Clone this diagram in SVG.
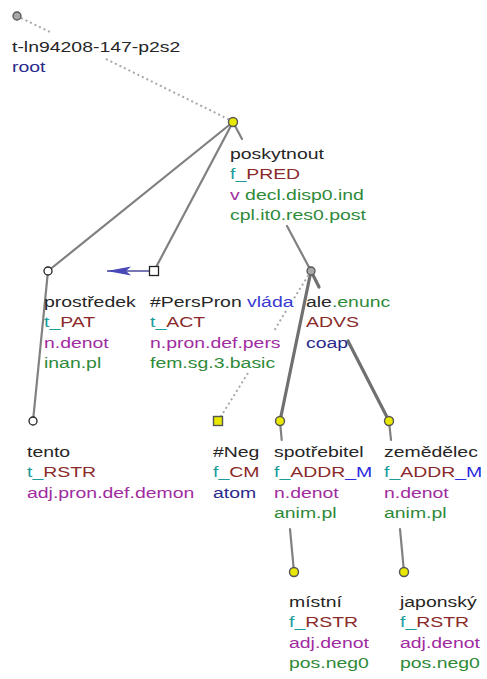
<svg xmlns="http://www.w3.org/2000/svg" width="487" height="679" viewBox="0 0 487 679">
<style>
  .t{font-family:"Liberation Sans",Arial,sans-serif;font-size:14.5px;fill:#262626}
  .cb{fill:#1a9c9c}
  .fn{fill:#8a2a2a}
  .mb{fill:#2b2bdd}
  .sp{fill:#a02ca0}
  .gr{fill:#2f8a3a}
  .nv{fill:#2a2a8a}
  .bl{fill:#3a3ad0}
  .e{stroke:#808080;stroke-width:2.2;fill:none;stroke-linecap:round}
  .ec{stroke:#707070;stroke-width:3.2;fill:none;stroke-linecap:round}
  .ed{stroke:#a8a8a8;stroke-width:2;fill:none;stroke-dasharray:2 3}
  .ny{fill:#e8e800;stroke:#555;stroke-width:1.4}
  .nw{fill:#fff;stroke:#222;stroke-width:1.3}
  .ng{fill:#a8a8a8;stroke:#555;stroke-width:1.3}
</style>
<defs>
  <marker id="ah" viewBox="0 0 24 10" refX="24" refY="5" markerWidth="24" markerHeight="10" markerUnits="userSpaceOnUse" orient="auto">
    <path d="M0,0.5 L24,5 L0,9.5 L5,5 Z" fill="#4848b8"/>
  </marker>
</defs>
<rect width="487" height="679" fill="#fff"/>
<g id="connectors">
  <path class="ed" d="M21,18 L50,32 M106,59 L230,120"/>
  <path class="e" d="M233,122 L48,271"/>
  <path class="e" d="M233,122 L154,271"/>
  <path class="e" d="M233,122 L242,139 M287,226 L311,271"/>
  <path class="ec" d="M311,271 L280,421"/>
  <path class="ec" d="M311,271 L319,287 M348,341 L389,421"/>
  <path class="ed" d="M311,271 L293,300 M286,311 L274,331 M248,373 L218,421"/>
  <path class="e" d="M48,271 L33,421"/>
  <path class="e" d="M280,421 L281.7,440 M290,529 L294,572"/>
  <path class="e" d="M389,421 L391,440 M400,529 L404,572"/>
  <line x1="149" y1="271" x2="107" y2="271" stroke="#4a4a9a" stroke-width="1.6" marker-end="url(#ah)"/>
</g>
<g id="n-root">
  <circle class="ng" cx="17" cy="16" r="4"/>
  <text class="t" transform="translate(12,52) scale(1.34,1)"><tspan x="0" y="0">t-ln94208-147-p2s2</tspan><tspan x="0" y="20.5" class="nv">root</tspan></text>
</g>
<g id="n-poskytnout">
  <circle class="ny" cx="233" cy="122" r="4.5"/>
  <text class="t" transform="translate(230,159) scale(1.34,1)"><tspan x="0" y="0">poskytnout</tspan><tspan x="0" y="20.5"><tspan class="cb">f_</tspan><tspan class="fn">PRED</tspan></tspan><tspan x="0" y="41"><tspan class="sp">v</tspan><tspan class="gr"> decl.disp0.ind</tspan></tspan><tspan x="0" y="61.5" class="gr">cpl.it0.res0.post</tspan></text>
</g>
<g id="n-prostredek">
  <circle class="nw" cx="48" cy="271" r="4"/>
  <text class="t" transform="translate(44,307) scale(1.34,1)"><tspan x="0" y="0">prostředek</tspan><tspan x="0" y="20.5"><tspan class="cb">t_</tspan><tspan class="fn">PAT</tspan></tspan><tspan x="0" y="41" class="sp">n.denot</tspan><tspan x="0" y="61.5" class="gr">inan.pl</tspan></text>
</g>
<g id="n-perspron">
  <rect class="nw" x="149.5" y="266.5" width="9" height="9"/>
  <text class="t" transform="translate(150,307) scale(1.34,1)"><tspan x="0" y="0">#PersPron <tspan class="bl">vláda</tspan></tspan><tspan x="0" y="20.5"><tspan class="cb">t_</tspan><tspan class="fn">ACT</tspan></tspan><tspan x="0" y="41" class="sp">n.pron.def.pers</tspan><tspan x="0" y="61.5" class="gr">fem.sg.3.basic</tspan></text>
</g>
<g id="n-ale">
  <circle class="ng" cx="311" cy="271" r="4"/>
  <text class="t" transform="translate(306,307) scale(1.34,1)"><tspan x="0" y="0">ale<tspan class="gr">.enunc</tspan></tspan><tspan x="0" y="20.5" class="fn">ADVS</tspan><tspan x="0" y="41" class="nv">coap</tspan></text>
</g>
<g id="n-tento">
  <circle class="nw" cx="33" cy="421" r="4"/>
  <text class="t" transform="translate(27,457) scale(1.34,1)"><tspan x="0" y="0">tento</tspan><tspan x="0" y="20.5"><tspan class="cb">t_</tspan><tspan class="fn">RSTR</tspan></tspan><tspan x="0" y="41" class="sp">adj.pron.def.demon</tspan></text>
</g>
<g id="n-neg">
  <rect class="ny" x="213.5" y="416.5" width="9" height="9"/>
  <text class="t" transform="translate(213,457) scale(1.34,1)"><tspan x="0" y="0">#Neg</tspan><tspan x="0" y="20.5"><tspan class="cb">f_</tspan><tspan class="fn">CM</tspan></tspan><tspan x="0" y="41" class="nv">atom</tspan></text>
</g>
<g id="n-spotrebitel">
  <circle class="ny" cx="280" cy="421" r="4.5"/>
  <text class="t" transform="translate(274,457) scale(1.34,1)"><tspan x="0" y="0">spotřebitel</tspan><tspan x="0" y="20.5"><tspan class="cb">f_</tspan><tspan class="fn">ADDR</tspan><tspan class="mb">_M</tspan></tspan><tspan x="0" y="41" class="sp">n.denot</tspan><tspan x="0" y="61.5" class="gr">anim.pl</tspan></text>
</g>
<g id="n-zemedelec">
  <circle class="ny" cx="389" cy="421" r="4.5"/>
  <text class="t" transform="translate(384,457) scale(1.34,1)"><tspan x="0" y="0">zemědělec</tspan><tspan x="0" y="20.5"><tspan class="cb">f_</tspan><tspan class="fn">ADDR</tspan><tspan class="mb">_M</tspan></tspan><tspan x="0" y="41" class="sp">n.denot</tspan><tspan x="0" y="61.5" class="gr">anim.pl</tspan></text>
</g>
<g id="n-mistni">
  <circle class="ny" cx="294" cy="572" r="4.5"/>
  <text class="t" transform="translate(289,607) scale(1.34,1)"><tspan x="0" y="0">místní</tspan><tspan x="0" y="20.5"><tspan class="cb">f_</tspan><tspan class="fn">RSTR</tspan></tspan><tspan x="0" y="41" class="sp">adj.denot</tspan><tspan x="0" y="61.5" class="gr">pos.neg0</tspan></text>
</g>
<g id="n-japonsky">
  <circle class="ny" cx="404" cy="572" r="4.5"/>
  <text class="t" transform="translate(400,607) scale(1.34,1)"><tspan x="0" y="0">japonský</tspan><tspan x="0" y="20.5"><tspan class="cb">f_</tspan><tspan class="fn">RSTR</tspan></tspan><tspan x="0" y="41" class="sp">adj.denot</tspan><tspan x="0" y="61.5" class="gr">pos.neg0</tspan></text>
</g>
</svg>
